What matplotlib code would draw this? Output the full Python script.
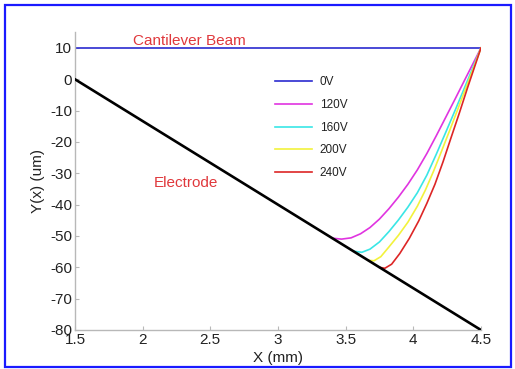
import matplotlib
matplotlib.use("Agg")
import matplotlib.pyplot as plt
from matplotlib.patches import Rectangle

plt.rcParams["font.family"] = ["Liberation Sans", "DejaVu Sans"]
plt.rcParams["axes.unicode_minus"] = False

# electrode (straight line) and the undeflected beam
electrode_x = [1.5, 4.5]
electrode_y = [0, -80]
beam0_x = [1.5, 4.5]
beam0_y = [10, 10]

# deflected beam profiles (x in mm, y in um)
v120_x = [3.40, 3.47, 3.54, 3.61, 3.68, 3.75, 3.82, 3.89, 3.96, 4.03, 4.10, 4.17, 4.24, 4.31, 4.38, 4.44, 4.50]
v120_y = [-50.7, -51.0, -50.6, -49.3, -47.3, -44.6, -41.3, -37.6, -33.5, -28.9, -23.7, -18.0, -12.1, -6.2, -0.2, 4.9, 10.0]

v160_x = [3.557, 3.62, 3.68, 3.75, 3.82, 3.89, 3.96, 4.03, 4.10, 4.17, 4.24, 4.31, 4.37, 4.44, 4.50]
v160_y = [-54.85, -55.2, -54.2, -51.9, -48.6, -44.9, -40.8, -36.2, -30.6, -23.9, -16.9, -9.8, -3.6, 3.7, 10.0]

v200_x = [3.665, 3.71, 3.76, 3.82, 3.89, 3.96, 4.03, 4.09, 4.15, 4.21, 4.27, 4.33, 4.39, 4.45, 4.50]
v200_y = [-57.75, -57.9, -56.6, -53.5, -49.8, -45.6, -40.5, -35.3, -29.3, -22.8, -16.2, -9.4, -2.6, 4.2, 10.0]

v240_x = [3.75, 3.79, 3.84, 3.90, 3.97, 4.04, 4.10, 4.16, 4.22, 4.28, 4.34, 4.40, 4.45, 4.50]
v240_y = [-60.0, -60.3, -59.0, -55.6, -50.8, -45.2, -39.6, -33.5, -26.3, -18.5, -10.8, -2.8, 3.6, 10.0]

labels = ["0V", "120V", "160V", "200V", "240V"]
colors = ["#2b2bd0", "#e034e0", "#3ae6e6", "#f2f23c", "#dd2626"]

fig = plt.figure(figsize=(5.15, 3.69), dpi=100)
ax = fig.add_axes([0.1456, 0.1057, 0.7883, 0.8068])

series = [(beam0_x, beam0_y), (v120_x, v120_y), (v160_x, v160_y),
          (v200_x, v200_y), (v240_x, v240_y)]
for (xs, ys), lab, c in zip(series, labels, colors):
    ax.plot(xs, ys, color=c, lw=1.2, label=lab, zorder=2)
ax.plot(electrode_x, electrode_y, color="black", lw=1.9, zorder=3)

ax.set_xlim(1.5, 4.5)
ax.set_ylim(-80, 15)
ax.set_xticks([1.5, 2, 2.5, 3, 3.5, 4, 4.5])
ax.set_xticklabels(["1.5", "2", "2.5", "3", "3.5", "4", "4.5"])
ax.set_yticks(range(-80, 11, 10))

for side in ["top", "right"]:
    ax.spines[side].set_visible(False)
for side in ["left", "bottom"]:
    ax.spines[side].set_color("#b8b8b8")
    ax.spines[side].set_linewidth(1.0)
ax.tick_params(direction="in", length=3, color="#b8b8b8", labelsize=11,
               labelcolor="#222222", pad=2)

ax.set_xlabel("X (mm)", fontsize=11, color="#222222", labelpad=3)
ax.set_ylabel("Y(x) (um)", fontsize=11, color="#222222", labelpad=4)

ax.text(1.93, 11.0, "Cantilever Beam", color="#e0383c", fontsize=11)
ax.text(2.08, -34.5, "Electrode", color="#e0383c", fontsize=11)

ax.legend(loc="upper left", bbox_to_anchor=(0.4926, 0.8515), frameon=False,
          fontsize=8.5, handlelength=3.1, handletextpad=0.7, labelspacing=0.9,
          borderpad=0, borderaxespad=0, labelcolor="#222222")

fig.patches.append(Rectangle((5 / 515, 2 / 369), 506 / 515, 362 / 369,
                             transform=fig.transFigure, fill=False,
                             edgecolor="#1a1aff", linewidth=1.6))

fig.savefig("out.png", dpi=100)
